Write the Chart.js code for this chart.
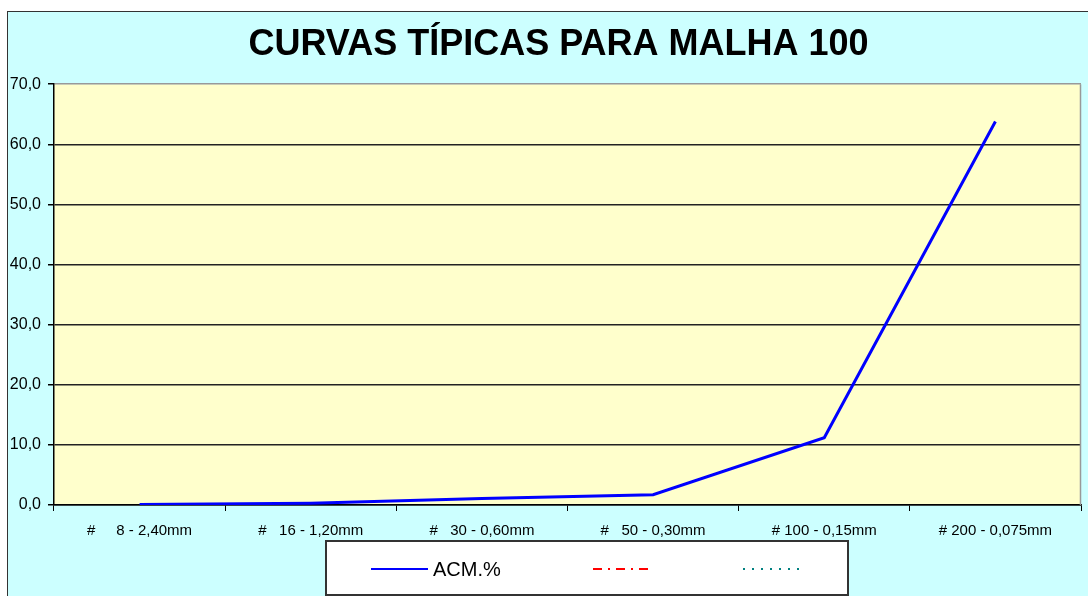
<!DOCTYPE html>
<html>
<head>
<meta charset="utf-8">
<script src="https://cdn.jsdelivr.net/npm/chart.js@4.4.1/dist/chart.umd.min.js"></script>
<style>
  html, body { margin: 0; padding: 0; background: #fff; overflow: hidden; }
  #frame { position: absolute; left: 7px; top: 11px; width: 1110px; height: 600px;
           border: 1px solid #333; background: #ccffff; }
  #chart { position: absolute; left: 0; top: 0; }
</style>
</head>
<body>
<div id="frame"><canvas id="chart" width="1101" height="590"></canvas></div>
<script>
// ─── Data ────────────────────────────────────────────
const categories = [
    '#     8 - 2,40mm',
    '#   16 - 1,20mm',
    '#   30 - 0,60mm',
    '#   50 - 0,30mm',
    '# 100 - 0,15mm',
    '# 200 - 0,075mm'
];
const acmValues = [0.1, 0.3, 1.1, 1.7, 11.2, 63.8];
const redValues = [];
const tealValues = [];
const seriesLabels = ['ACM.%', '', ''];
const yMin = 0, yMax = 70, yStep = 10;

const FONT = "'Liberation Sans', Arial, sans-serif";

// plot background + grey right edge
const plotFrame = {
    id: 'plotFrame',
    afterLayout(chart) {
        // centre the title on the whole frame, not on the padded box
        const t = chart.titleBlock;
        if (t) { t.right = chart.width; t.width = chart.width - t.left; }
    },
    beforeDraw(chart) {
        const { ctx, chartArea: a } = chart;
        ctx.save();
        ctx.fillStyle = '#ffffcc';
        ctx.fillRect(a.left, a.top, a.width, a.height);
        ctx.restore();
    },
    afterDraw(chart) {
        const { ctx, chartArea: a } = chart;
        ctx.save();
        ctx.strokeStyle = '#999';
        ctx.lineWidth = 1.5;
        ctx.beginPath();
        ctx.moveTo(Math.round(a.right) - 0.5, a.top);
        ctx.lineTo(Math.round(a.right) - 0.5, a.bottom);
        ctx.stroke();
        ctx.restore();
    }
};

// Excel-like boxed legend under the axis
const boxLegend = {
    id: 'boxLegend',
    afterDraw(chart) {
        const ctx = chart.ctx;
        const bx = 318, by = 529, bw = 522, bh = 54;
        const slots = [45, 267, 417]; // sample start inside the box
        ctx.save();
        ctx.fillStyle = '#fff';
        ctx.fillRect(bx, by, bw, bh);
        ctx.strokeStyle = '#333';
        ctx.lineWidth = 2;
        ctx.strokeRect(bx, by, bw, bh);
        const cy = by + 28;
        chart.data.datasets.forEach((ds, i) => {
            const x0 = bx + slots[i];
            ctx.strokeStyle = ds.borderColor;
            ctx.lineWidth = Math.min(ds.borderWidth, 2);
            ctx.setLineDash(ds.borderDash || []);
            ctx.beginPath();
            ctx.moveTo(x0, cy);
            ctx.lineTo(x0 + 57, cy);
            ctx.stroke();
            ctx.setLineDash([]);
            if (ds.label) {
                ctx.fillStyle = '#000';
                ctx.font = '20px ' + FONT;
                ctx.textBaseline = 'middle';
                ctx.textAlign = 'left';
                ctx.fillText(ds.label, x0 + 62, cy + 1);
            }
        });
        ctx.restore();
    }
};

const ctx = document.getElementById('chart').getContext('2d');
new Chart(ctx, {
    type: 'line',
    data: {
        labels: categories,
        datasets: [
            { label: seriesLabels[0], data: acmValues, borderColor: '#0000ff', borderWidth: 3,
              pointRadius: 0, tension: 0, fill: false },
            { label: seriesLabels[1], data: redValues, borderColor: '#ff0000', borderWidth: 2,
              borderDash: [9, 6, 2, 6], pointRadius: 0, fill: false },
            { label: seriesLabels[2], data: tealValues, borderColor: '#008080', borderWidth: 2,
              borderDash: [2, 7], pointRadius: 0, fill: false }
        ]
    },
    options: {
        responsive: false,
        animation: false,
        layout: { padding: { left: 0, right: 28, top: 0, bottom: 0 } },
        plugins: {
            legend: { display: false },
            tooltip: { enabled: false },
            title: {
                display: true,
                text: 'CURVAS TÍPICAS PARA MALHA 100',
                color: '#000',
                font: { family: FONT, size: 36, weight: 'bold' },
                padding: { top: 11, bottom: 18 }
            }
        },
        scales: {
            x: {
                offset: true,
                afterFit: (s) => { s.height = 97; },
                grid: { offset: true, drawOnChartArea: false, drawTicks: true, tickLength: 6,
                        color: '#000' },
                border: { color: '#000', width: 1.5 },
                ticks: { autoSkip: false, maxRotation: 0, color: '#000', padding: 11,
                         font: { family: FONT, size: 15 } }
            },
            y: {
                min: yMin, max: yMax,
                afterFit: (s) => { s.width = 46; },
                grid: {
                    color: (c) => (c.tick && c.tick.value === yMax ? '#999' : '#222'),
                    tickColor: '#000', tickLength: 6, lineWidth: 1.5
                },
                border: { color: '#000', width: 1.5 },
                ticks: {
                    stepSize: yStep, color: '#000', padding: 7,
                    font: { family: FONT, size: 16 },
                    callback: (v) => v.toFixed(1).replace('.', ',')
                }
            }
        }
    },
    plugins: [plotFrame, boxLegend]
});
</script>
</body>
</html>
